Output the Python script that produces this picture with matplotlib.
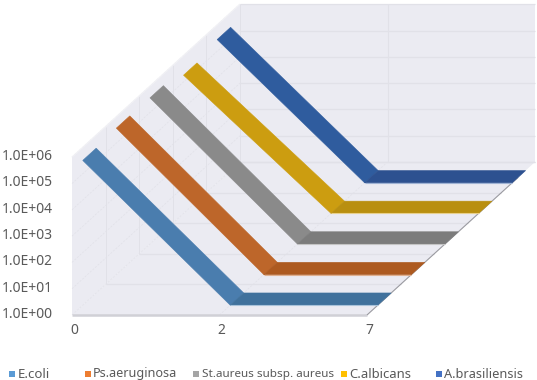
import matplotlib; matplotlib.use('Agg')
import matplotlib.pyplot as plt
import numpy as np

categories = ['0', '2', '7']
series_names = ['E.coli', 'Ps.aeruginosa', 'St.aureus subsp. aureus', 'C.albicans', 'A.brasiliensis']
ecoli = [3.2e5, 1, 1]
ps_aeruginosa = [3.7e5, 1, 1]
st_aureus = [3.6e5, 1, 1]
c_albicans = [1.8e5, 1, 1]
a_brasiliensis = [2.8e5, 1, 1]
all_series = [ecoli, ps_aeruginosa, st_aureus, c_albicans, a_brasiliensis]
y_ticks = ['1.0E+00', '1.0E+01', '1.0E+02', '1.0E+03', '1.0E+04', '1.0E+05', '1.0E+06']

# front colour (sloped part), floor colour (flat part), legend colour
slope_colors = ['#4a7dae', '#bd662a', '#8a8a8a', '#cc9d10', '#2f5c9e']
floor_colors = ['#40719c', '#ad5a20', '#7c7c7c', '#b98f10', '#2d5190']
legend_colors = ['#5b9bd5', '#ed7d31', '#a5a5a5', '#ffc000', '#4472c4']
edge_colors = ['#a9c3da', '#e0b08f', '#c4c4c4', '#e8d08c', '#9fb3d4']
legend_sq_x = [9, 85, 193, 341, 436]
legend_txt_x = [18, 93, 202, 349, 444]
legend_sizes = [9.5, 9.05, 8.4, 9.4, 9.2]

WALL = '#ebebf2'
GRID = '#e1e1e8'
TXT = '#595959'
plt.rcParams['font.family'] = ['Noto Sans', 'DejaVu Sans']

# oblique projection of the excel 3d box, in pixels
X0, Y0 = 72, 315
CAT_W = 147.5
DEPTH_X, DEPTH_Y = 168, -153
DEC_H = 26.3


def project(cat, depth, logv):
    return X0 + CAT_W * cat + DEPTH_X * depth, Y0 + DEPTH_Y * depth - DEC_H * logv


def poly(ax, pts, **kw):
    xy = np.array([project(*p) for p in pts])
    ax.fill(xy[:, 0], xy[:, 1], **kw)


def seg(ax, a, b, **kw):
    xy = np.array([project(*a), project(*b)])
    ax.plot(xy[:, 0], xy[:, 1], solid_capstyle='butt', **kw)


fig = plt.figure(figsize=(5.37, 3.8), dpi=100)
ax = fig.add_axes([0, 0, 1, 1])
ax.set_xlim(0, 537)
ax.set_ylim(380, 0)
ax.axis('off')

# walls and floor
poly(ax, [(0, 0, 0), (0, 1, 0), (0, 1, 6), (0, 0, 6)], color=WALL, lw=0)
poly(ax, [(0, 1, 0), (2, 1, 0), (2, 1, 6), (0, 1, 6)], color=WALL, lw=0)
poly(ax, [(0, 0, 0), (2, 0, 0), (2, 1, 0), (0, 1, 0)], color=WALL, lw=0)

# gridlines
for i in range(7):
    seg(ax, (0, 1, i), (2, 1, i), color=GRID, lw=0.9)
    seg(ax, (0, 0, i), (0, 1, i), color=GRID, lw=0.5, ls=(0, (3, 2)))
for c in [1]:
    seg(ax, (c, 1, 0), (c, 1, 6), color=GRID, lw=0.8)
    seg(ax, (c, 0, 0), (c, 1, 0), color=GRID, lw=0.5, ls=(0, (3, 2)))
for d in np.arange(1, 6) / 5:
    seg(ax, (0, d, 0), (0, d, 6), color=GRID, lw=0.7)
    seg(ax, (0, d, 0), (2, d, 0), color=GRID, lw=0.9)
seg(ax, (0, 0, 0), (2, 0, 0), color='#d0d0d6', lw=1.8)
seg(ax, (2, 0, 0), (2, 0.9, 0), color='#9a9aa0', lw=0.8)
seg(ax, (0, 0, 6), (0, 1, 6), color='#f1f1f5', lw=1)

# ribbons, back series first
for i in range(len(all_series) - 1, -1, -1):
    logs = np.log10(all_series[i])
    d0 = (i + 0.32) / 5
    d1 = (i + 0.72) / 5
    for c in range(len(categories) - 1):
        flat = logs[c] == logs[c + 1]
        col = floor_colors[i] if flat else slope_colors[i]
        poly(ax, [(c, d0, logs[c]), (c + 1, d0, logs[c + 1]),
                  (c + 1, d1, logs[c + 1]), (c, d1, logs[c])], color=col, lw=0.4, zorder=4 if flat else 3)
        if flat:
            seg(ax, (c, d0, logs[c]), (c + 1, d0, logs[c + 1]), color=edge_colors[i], lw=0.8, zorder=5)

# axis labels
for i, lab in enumerate(y_ticks):
    x, y = project(0, 0, i)
    ax.text(52.5, y - 0.5, lab, ha='right', va='center', fontsize=10, color=TXT)
for c, lab in enumerate(categories):
    x, y = project(c, 0, 0)
    ax.text(x + 2, 330, lab, ha='center', va='center', fontsize=10, color=TXT)

# legend
for i, name in enumerate(series_names):
    ax.add_patch(plt.Rectangle((legend_sq_x[i], 371), 5.5, 6, color=legend_colors[i], lw=0))
    ax.text(legend_txt_x[i], 377.5, name, ha='left', va='baseline', fontsize=legend_sizes[i], color=TXT)

fig.savefig('out.png', dpi=100)
